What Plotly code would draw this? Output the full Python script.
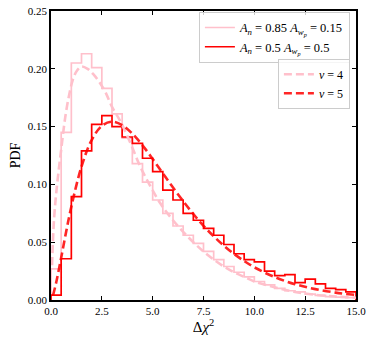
import plotly.graph_objects as go

# histogram bins (width 0.5 from 0 to 15)
bin_edges = [i * 0.5 for i in range(31)]

hist_pink = [0.027, 0.145, 0.205, 0.213, 0.201, 0.183, 0.161, 0.140, 0.118, 0.102,
             0.0865, 0.075, 0.064, 0.056, 0.049, 0.042, 0.035, 0.029, 0.024, 0.020,
             0.016, 0.013, 0.010, 0.008, 0.007, 0.005, 0.004, 0.003, 0.0025, 0.002]

hist_red = [0.0043, 0.0357, 0.0894, 0.129, 0.152, 0.1595, 0.150, 0.141, 0.1355, 0.1226,
            0.111, 0.095, 0.0865, 0.075, 0.069, 0.062, 0.056, 0.048, 0.040, 0.035,
            0.033, 0.025, 0.021, 0.022, 0.015, 0.018, 0.014, 0.010, 0.009, 0.007]

# dashed model curves
curve4_x = [0.05, 0.15, 0.3, 0.5, 0.7, 0.9, 1.1, 1.3, 1.5, 1.8, 2.1, 2.4, 2.7, 3.0,
            3.4, 3.9, 4.4, 4.9, 5.4, 6.0, 6.5, 7.0, 7.5, 8.0, 8.5, 9.0, 9.5, 10.0,
            11.0, 12.0, 13.0, 14.0, 15.0]
curve4_y = [0.03, 0.07, 0.10, 0.13, 0.158, 0.178, 0.192, 0.199, 0.202, 0.200, 0.195,
            0.188, 0.179, 0.167, 0.155, 0.136, 0.115, 0.098, 0.083, 0.069, 0.059, 0.050,
            0.042, 0.035, 0.029, 0.024, 0.020, 0.016, 0.011, 0.007, 0.0045, 0.003, 0.002]

curve5_x = [0.1, 0.25, 0.5, 0.75, 1.0, 1.5, 2.0, 2.5, 3.0, 3.5, 4.0, 4.5, 5.0, 5.5,
            6.0, 6.5, 7.0, 7.5, 8.0, 8.5, 9.0, 9.5, 10.0, 11.0, 12.0, 13.0, 14.0, 15.0]
curve5_y = [0.004, 0.0147, 0.0366, 0.0594, 0.0807, 0.1154, 0.1384, 0.1506, 0.1542,
            0.1513, 0.1439, 0.1338, 0.1220, 0.1096, 0.0973, 0.0855, 0.0744, 0.0642,
            0.0551, 0.0470, 0.0399, 0.0337, 0.0283, 0.0198, 0.0137, 0.0094, 0.0064, 0.0043]

x_ticks = [0.0, 2.5, 5.0, 7.5, 10.0, 12.5, 15.0]
x_tick_labels = ["0.0", "2.5", "5.0", "7.5", "10.0", "12.5", "15.0"]
y_ticks = [0.00, 0.05, 0.10, 0.15, 0.20, 0.25]
y_tick_labels = ["0.00", "0.05", "0.10", "0.15", "0.20", "0.25"]

label_pink = "<i>A<sub>n</sub></i> = 0.85 <i>A<sub>w<sub>p</sub></sub></i> = 0.15"
label_red = "<i>A<sub>n</sub></i> = 0.5 <i>A<sub>w<sub>p</sub></sub></i> = 0.5"


def step_xy(edges, vals):
    xs = [edges[0]] + list(edges) + [edges[-1]]
    ys = [0] + list(vals) + [vals[-1], 0]
    return xs, ys


FONT = "Liberation Serif"
fig = go.Figure()

xs, ys = step_xy(bin_edges, hist_pink)
fig.add_trace(go.Scatter(x=xs, y=ys, mode="lines", line=dict(color="pink", width=1.7, shape="hv"),
                         name=label_pink, legend="legend"))
xs, ys = step_xy(bin_edges, hist_red)
fig.add_trace(go.Scatter(x=xs, y=ys, mode="lines", line=dict(color="red", width=1.7, shape="hv"),
                         name=label_red, legend="legend"))

fig.add_trace(go.Scatter(x=curve4_x, y=curve4_y, mode="lines",
                         line=dict(color="pink", width=2.6, dash="8px,4px", shape="spline"),
                         name="<i>ν</i> = 4", legend="legend2"))
fig.add_trace(go.Scatter(x=curve5_x, y=curve5_y, mode="lines", opacity=0.85,
                         line=dict(color="red", width=2.6, dash="8px,4px", shape="spline"),
                         name="<i>ν</i> = 5", legend="legend2"))

axis_common = dict(showline=True, linecolor="black", linewidth=1.5, mirror="ticks",
                   ticks="inside", ticklen=4, tickwidth=1.2, tickcolor="black",
                   showgrid=False, zeroline=False, automargin=False,
                   tickfont=dict(family=FONT, size=11, color="black"))

fig.update_layout(
    width=374, height=343,
    margin=dict(l=51, r=18, t=11, b=43),
    paper_bgcolor="white", plot_bgcolor="white",
    font=dict(family=FONT, color="black"),
    xaxis=dict(range=[0, 15], tickvals=x_ticks, ticktext=x_tick_labels,
               title=dict(text="Δ<i>χ</i><sup>2</sup>", font=dict(family=FONT, size=15), standoff=2),
               **axis_common),
    yaxis=dict(range=[0, 0.25], tickvals=y_ticks, ticktext=y_tick_labels,
               title=dict(text="PDF", font=dict(family=FONT, size=14), standoff=4),
               **axis_common),
    legend=dict(x=0.98, y=0.997, xanchor="right", yanchor="top",
                bgcolor="rgba(255,255,255,0.8)", bordercolor="#cccccc", borderwidth=1,
                font=dict(family=FONT, size=12.5), itemwidth=30, tracegroupgap=0),
    legend2=dict(x=0.98, y=0.835, xanchor="right", yanchor="top",
                 bgcolor="rgba(255,255,255,0.8)", bordercolor="#cccccc", borderwidth=1,
                 font=dict(family=FONT, size=12), itemwidth=30, tracegroupgap=0),
    showlegend=True,
)

fig.write_html("out.html", config={"displayModeBar": False},
               post_script="document.body.style.margin='0';document.body.style.padding='0';")
